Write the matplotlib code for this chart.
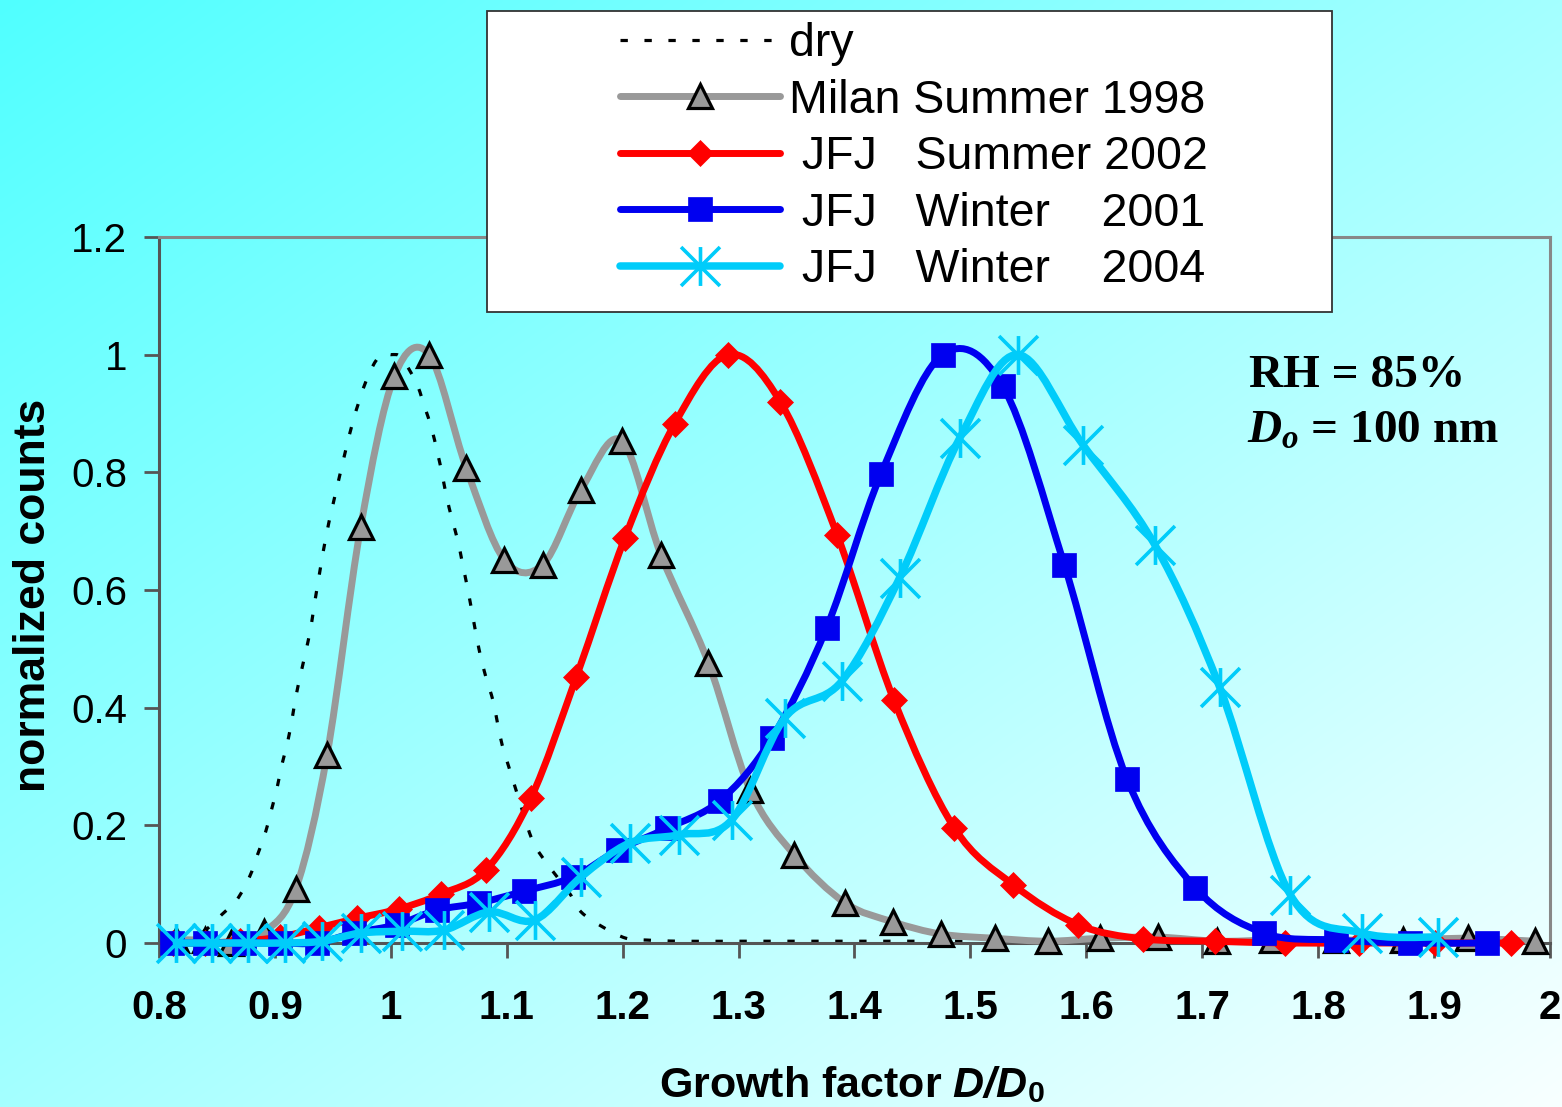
import numpy as np
import matplotlib
matplotlib.use('Agg')
import matplotlib.pyplot as plt
from matplotlib.path import Path
from matplotlib.patches import Rectangle, PathPatch
from matplotlib.lines import Line2D

plt.rcParams['mathtext.fontset'] = 'custom'
plt.rcParams['mathtext.it'] = 'Liberation Serif:italic:bold'
plt.rcParams['mathtext.rm'] = 'Liberation Serif:bold'
plt.rcParams['mathtext.sf'] = 'Liberation Sans:italic:bold'
plt.rcParams['mathtext.bf'] = 'Liberation Sans:bold'
plt.rcParams['font.family'] = ['Liberation Sans', 'DejaVu Sans']

# ---------------- data ----------------
dry_x = [0.82, 0.84, 0.854, 0.867, 0.878, 0.885, 0.892, 0.897, 0.902, 0.906, 0.911,
         0.915, 0.918, 0.922, 0.926, 0.931, 0.934, 0.944, 0.955, 0.967, 0.979, 0.99,
         1.0, 1.009, 1.022, 1.029, 1.035, 1.04, 1.044, 1.048, 1.053, 1.058, 1.062,
         1.066, 1.07, 1.076, 1.082, 1.088, 1.092, 1.096, 1.102, 1.108, 1.121, 1.131,
         1.154, 1.164, 1.183, 1.203, 1.221, 1.25, 1.3, 1.35, 1.4, 1.45, 1.5]
dry_y = [0.0, 0.022, 0.048, 0.073, 0.112, 0.15, 0.189, 0.226, 0.265, 0.303, 0.342,
         0.383, 0.418, 0.455, 0.49, 0.536, 0.575, 0.69, 0.787, 0.884, 0.957, 0.997,
         1.0, 0.995, 0.952, 0.912, 0.876, 0.835, 0.8, 0.759, 0.719, 0.682, 0.643,
         0.605, 0.563, 0.5, 0.452, 0.413, 0.374, 0.337, 0.298, 0.26, 0.18, 0.145,
         0.085, 0.053, 0.027, 0.008, 0.005, 0.003, 0.003, 0.003, 0.003, 0.003, 0.003]

milan_x = [0.815, 0.840, 0.862, 0.891, 0.918, 0.945, 0.974, 1.003, 1.033, 1.065, 1.098,
           1.131, 1.164, 1.199, 1.233, 1.274, 1.310, 1.348, 1.392, 1.433, 1.475, 1.521,
           1.567, 1.612, 1.662, 1.713, 1.760, 1.815, 1.873, 1.929, 1.987]
milan_y = [0.005, 0.005, 0.0, 0.019, 0.092, 0.32, 0.707, 0.963, 1.0, 0.808, 0.651,
           0.643, 0.770, 0.854, 0.66, 0.476, 0.26, 0.15, 0.068, 0.036, 0.015, 0.008,
           0.003, 0.008, 0.01, 0.003, 0.005, 0.005, 0.005, 0.008, 0.003]

jfj_s02_x = [0.812, 0.840, 0.870, 0.904, 0.938, 0.971, 1.007, 1.043, 1.082, 1.121, 1.160,
             1.202, 1.245, 1.291, 1.336, 1.385, 1.434, 1.486, 1.537, 1.593, 1.649, 1.711,
             1.771, 1.835, 1.901, 1.966]
jfj_s02_y = [0.0, 0.0, 0.003, 0.01, 0.026, 0.042, 0.058, 0.083, 0.124, 0.247, 0.452,
             0.689, 0.883, 1.0, 0.92, 0.694, 0.413, 0.196, 0.099, 0.031, 0.007, 0.003,
             0.0, 0.0, 0.0, 0.0]

jfj_w01_x = [0.811, 0.840, 0.873, 0.904, 0.936, 0.968, 1.005, 1.040, 1.076, 1.115, 1.157,
             1.196, 1.238, 1.284, 1.329, 1.376, 1.423, 1.476, 1.528, 1.581, 1.635, 1.694,
             1.753, 1.815, 1.879, 1.946]
jfj_w01_y = [0.0, 0.0, 0.0, 0.0, 0.0, 0.017, 0.031, 0.056, 0.068, 0.088, 0.112,
             0.158, 0.195, 0.242, 0.349, 0.536, 0.798, 1.0, 0.946, 0.643, 0.279, 0.094,
             0.017, 0.005, 0.0, 0.0]

jfj_w04_x = [0.815, 0.846, 0.877, 0.909, 0.941, 0.974, 1.010, 1.046, 1.085, 1.124, 1.164,
             1.206, 1.249, 1.294, 1.340, 1.389, 1.439, 1.491, 1.541, 1.597, 1.659, 1.715,
             1.776, 1.838, 1.903]
jfj_w04_y = [0.0, 0.0, 0.0, 0.0, 0.003, 0.017, 0.02, 0.022, 0.053, 0.039, 0.112,
             0.17, 0.184, 0.209, 0.383, 0.445, 0.621, 0.859, 1.0, 0.847, 0.677, 0.435,
             0.082, 0.017, 0.01]

series_labels = ['dry', 'Milan Summer 1998', ' JFJ   Summer 2002',
                 ' JFJ   Winter    2001', ' JFJ   Winter    2004']
x_ticks = [0.8, 0.9, 1.0, 1.1, 1.2, 1.3, 1.4, 1.5, 1.6, 1.7, 1.8, 1.9, 2.0]
x_tick_labels = ['0.8', '0.9', '1', '1.1', '1.2', '1.3', '1.4', '1.5', '1.6', '1.7',
                 '1.8', '1.9', '2']
y_ticks = [0, 0.2, 0.4, 0.6, 0.8, 1.0, 1.2]
y_tick_labels = ['0', '0.2', '0.4', '0.6', '0.8', '1', '1.2']


def smooth_path(xs, ys):
    """Smoothed (Catmull-Rom style) path through the data points, like a spreadsheet 'smoothed line'."""
    P = np.column_stack([xs, ys]).astype(float)
    n = len(P)
    verts = [P[0]]
    codes = [Path.MOVETO]
    for i in range(n - 1):
        p0 = P[i - 1] if i > 0 else P[i]
        p1 = P[i]
        p2 = P[i + 1]
        p3 = P[i + 2] if i + 2 < n else P[i + 1]
        verts += [p1 + (p2 - p0) / 6.0, p2 - (p3 - p1) / 6.0, p2]
        codes += [Path.CURVE4] * 3
    return Path(verts, codes)


# ---------------- figure ----------------
W, H = 1562, 1107
fig = plt.figure(figsize=(W / 100, H / 100), dpi=100)

bg = fig.add_axes([0, 0, 1, 1], zorder=-10)
gx, gy = np.meshgrid(np.linspace(0, 1, 400), np.linspace(0, 1, 300))
t = (gx + gy) / 2
r = (0x50 + t * (0xF8 - 0x50)) / 255
img = np.dstack([r, np.ones_like(r), np.ones_like(r)])
bg.imshow(img, aspect='auto', extent=[0, 1, 0, 1], origin='upper', interpolation='bilinear')
bg.axis('off')

L, R, T, B = 159, 1550, 237, 943
ax = fig.add_axes([L / W, 1 - B / H, (R - L) / W, (B - T) / H])
ax.set_facecolor('none')
ax.set_xlim(0.8, 2.0)
ax.set_ylim(0, 1.2)

star = Path([(-1, -1), (1, 1), (-1, 1), (1, -1), (0, -1), (0, 1)],
            [Path.MOVETO, Path.LINETO, Path.MOVETO, Path.LINETO, Path.MOVETO, Path.LINETO])

styles = [
    dict(x=dry_x, y=dry_y, color='black', lw=2.3, ls=(0, (2.3, 5.2)), marker=None),
    dict(x=milan_x, y=milan_y, color='#999999', lw=5.0, ls='-', marker='^', ms=17,
         mfc='#999999', mec='black', mew=2.3),
    dict(x=jfj_s02_x, y=jfj_s02_y, color='#FF0000', lw=5.0, ls='-', marker='D', ms=13,
         mfc='#FF0000', mec='#FF0000', mew=0.5),
    dict(x=jfj_w01_x, y=jfj_w01_y, color='#0000F0', lw=5.0, ls='-', marker='s', ms=17,
         mfc='#0000F0', mec='#0000F0', mew=0.5),
    dict(x=jfj_w04_x, y=jfj_w04_y, color='#00CCFA', lw=5.4, ls='-', marker=star, ms=28,
         mfc='none', mec='#00CCFA', mew=2.6),
]

handles = []
for k, s in enumerate(styles):
    z = 2 + k
    patch = PathPatch(smooth_path(s['x'], s['y']), facecolor='none', edgecolor=s['color'],
                      lw=s['lw'], linestyle=s['ls'], capstyle='round' if s['ls'] == '-' else 'butt',
                      joinstyle='round', clip_on=False, zorder=z)
    ax.add_patch(patch)
    if s['marker'] is not None:
        ax.plot(s['x'], s['y'], linestyle='none', marker=s['marker'], ms=s['ms'],
                mfc=s['mfc'], mec=s['mec'], mew=s['mew'], clip_on=False, zorder=z + 0.5)
        handles.append(Line2D([], [], color=s['color'], lw=s['lw'], marker=s['marker'],
                              ms=s['ms'], mfc=s['mfc'], mec=s['mec'], mew=s['mew'],
                              solid_capstyle='round'))
    else:
        handles.append(Line2D([], [], color=s['color'], lw=s['lw'], dashes=(2.3, 5.2)))

ax.set_xticks(x_ticks)
ax.set_xticklabels(x_tick_labels, fontsize=29, fontweight='bold')
ax.set_yticks(y_ticks)
ax.set_yticklabels(y_tick_labels, fontsize=29)
ax.tick_params(axis='both', direction='out', length=11, width=2, color='#555555')
ax.tick_params(axis='x', pad=22)
ax.tick_params(axis='y', pad=12)
for sp in ['left', 'bottom']:
    ax.spines[sp].set_color('#555555')
    ax.spines[sp].set_linewidth(2.2)
for sp in ['top', 'right']:
    ax.spines[sp].set_color('#888888')
    ax.spines[sp].set_linewidth(2.2)

fig.text(34 / W, 1 - 595 / H, 'normalized counts', rotation=90, fontsize=32,
         fontweight='bold', ha='center', va='center')
fig.text(852 / W, 1 - 1097 / H, r'Growth factor $\mathsf{D/D}_{\mathbf{0}}$', fontsize=31,
         fontweight='bold', ha='center', va='baseline')

fig.text(1249 / W, 1 - 387 / H, 'RH = 85%', fontsize=34, fontweight='bold',
         family='Liberation Serif', va='baseline', ha='left')
fig.text(1247 / W, 1 - 443 / H, r'$D_o$ = 100 nm', fontsize=34, fontweight='bold',
         family='Liberation Serif', va='baseline', ha='left')

# legend box
fig.patches.append(Rectangle((487 / W, 1 - 312 / H), (1332 - 487) / W, (312 - 11) / H,
                             transform=fig.transFigure, facecolor='white',
                             edgecolor='#333333', lw=1.3, zorder=4.9))
leg = fig.legend(handles, series_labels,
                 loc='upper left', bbox_to_anchor=(620 / W, 1 - 22 / H),
                 frameon=False, fontsize=33.5, handlelength=3.44, handletextpad=0.2,
                 labelspacing=0.27, borderpad=0, borderaxespad=0, numpoints=1)
leg.set_zorder(6)

fig.savefig('out.png', dpi=100)
